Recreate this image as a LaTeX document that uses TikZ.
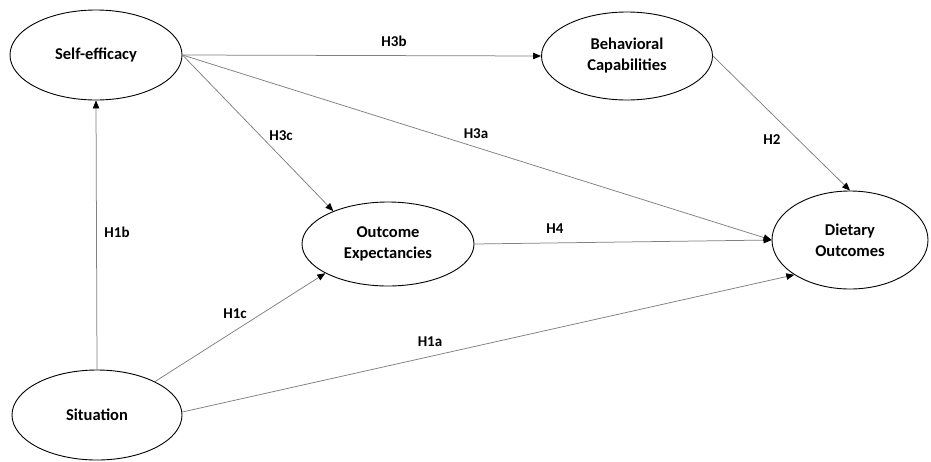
\documentclass[tikz,border=0pt]{standalone}
\usepackage{fontspec}
\setmainfont{Carlito}
\usetikzlibrary{shapes.geometric,arrows.meta}

\tikzset{
  construct/.style={ellipse, draw=black, line width=0.9pt, fill=white,
    inner sep=0pt, align=center,
    font=\fontsize{16.5}{21}\selectfont\bfseries},
  path/.style={draw=black!50, line width=0.75pt,
    -{Triangle[length=8pt,width=6.5pt,color=black]}},
  hyp/.style={font=\fontsize{15}{18}\selectfont\bfseries, inner sep=0pt}
}

\begin{document}
\begin{tikzpicture}[x=1pt,y=-1pt]
  \useasboundingbox[fill=white] (0,0) rectangle (931,461);

  % constructs
  \node[construct, minimum width=172pt, minimum height=90pt] (se) at (96,55) {Self-efficacy};
  \node[construct, minimum width=171pt, minimum height=88pt] (bc) at (627,56) {Behavioral\\Capabilities};
  \node[construct, minimum width=172pt, minimum height=84pt] (oe) at (388,244) {Outcome\\Expectancies};
  \node[construct, minimum width=156pt, minimum height=98pt] (do) at (850,240) {Dietary\\Outcomes};
  \node[construct, minimum width=170pt, minimum height=90pt] (si) at (97,415) {Situation};

  % hypothesised paths
  \draw[path] (se.east) -- (bc.west);
  \draw[path] (se.east) -- (oe.149);
  \draw[path] (se.east) -- (do.west);
  \draw[path] (bc.east) -- (do.north);
  \draw[path] (oe.east) -- (do.west);
  \draw[path] (si.north) -- (se.south);
  \draw[path] (si.30) -- (oe.205);
  \draw[path] (si.2) -- (do.212);

  % path labels
  \node[hyp] (h3b) at (394,41) {H3b};
  \node[hyp] (h3c) at (281,136) {H3c};
  \node[hyp] (h3a) at (476,134) {H3a};
  \node[hyp] (h2) at (772,140) {H2};
  \node[hyp] (h4) at (555,229) {H4};
  \node[hyp] (h1b) at (117,232) {H1b};
  \node[hyp] (h1c) at (235,314) {H1c};
  \node[hyp] (h1a) at (430,342) {H1a};
\end{tikzpicture}
\end{document}
